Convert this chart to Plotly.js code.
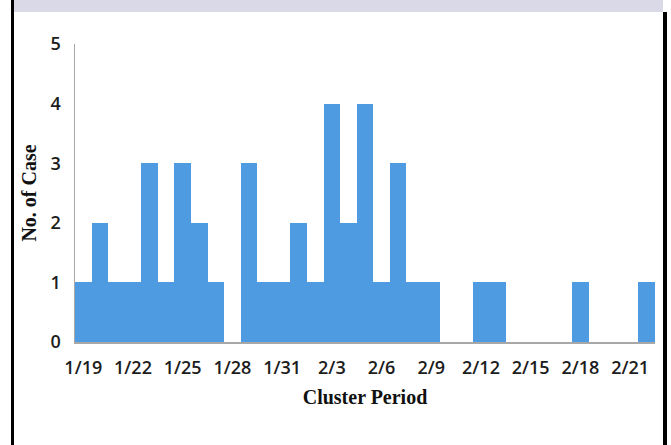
<!DOCTYPE html>
<html>
<head>
<meta charset="utf-8">
<script src="https://cdn.plot.ly/plotly-3.0.1.min.js"></script>
<style>
  html, body { margin: 0; padding: 0; background: #ffffff; }
  #wrap { position: relative; width: 671px; height: 445px; overflow: hidden; }
  #chart { position: absolute; left: 0; top: 0; width: 671px; height: 445px; }
  .fr { position: absolute; pointer-events: none; }
</style>
</head>
<body>
<div id="wrap">
  <div id="chart"></div>
  <div class="fr" style="left:14px; top:0; width:649px; height:12px; background:#dad9e8;"></div>
  <div class="fr" style="left:11px; top:0; width:3px; height:445px; background:#000;"></div>
  <div class="fr" style="left:663px; top:12px; width:4px; height:433px; background:#000;"></div>
</div>
<script>
// Daily case counts of the cluster (1/19 .. 2/22)
const dates = ["1/19","1/20","1/21","1/22","1/23","1/24","1/25","1/26","1/27","1/28",
               "1/29","1/30","1/31","2/1","2/2","2/3","2/4","2/5","2/6","2/7",
               "2/8","2/9","2/10","2/11","2/12","2/13","2/14","2/15","2/16","2/17",
               "2/18","2/19","2/20","2/21","2/22"];
const cases = [1,2,1,1,3,1,3,2,1,0,
               3,1,1,2,1,4,2,4,1,3,
               1,1,0,0,1,1,0,0,0,0,
               1,0,0,0,1];
const tickLabels = ["1/19","1/22","1/25","1/28","1/31","2/3","2/6","2/9","2/12","2/15","2/18","2/21"];
const yTicks = [0,1,2,3,4,5];

const trace = {
  type: "bar",
  x: dates,
  y: cases,
  marker: { color: "#4e9be1", line: { width: 0 } },
  hoverinfo: "x+y"
};

const tickFont = { family: "Open Sans, sans-serif", size: 18, color: "#1c1c1c", weight: 600 };
const titleFont = { family: "Liberation Serif, Times New Roman, serif", size: 20, color: "#111", weight: "bold" };

const layout = {
  width: 671,
  height: 445,
  margin: { l: 75, r: 16, t: 44, b: 103 },
  paper_bgcolor: "#ffffff",
  plot_bgcolor: "#ffffff",
  bargap: 0,
  showlegend: false,
  xaxis: {
    type: "category",
    tickmode: "array",
    tickvals: tickLabels,
    ticktext: tickLabels,
    ticks: "",
    ticklabelstandoff: 9,
    showgrid: false,
    zeroline: false,
    showline: true,
    linecolor: "#a8a8a8",
    linewidth: 1.5,
    tickfont: tickFont,
    title: { text: "Cluster Period", standoff: 12, font: titleFont }
  },
  yaxis: {
    range: [0, 5],
    tickmode: "array",
    tickvals: yTicks,
    ticks: "",
    ticklabelstandoff: 9,
    showgrid: false,
    zeroline: false,
    showline: true,
    linecolor: "#a8a8a8",
    linewidth: 1.5,
    tickfont: tickFont,
    title: { text: "No. of Case", standoff: 8, font: titleFont }
  }
};

Plotly.newPlot("chart", [trace], layout, { displayModeBar: false, staticPlot: true });
</script>
</body>
</html>
